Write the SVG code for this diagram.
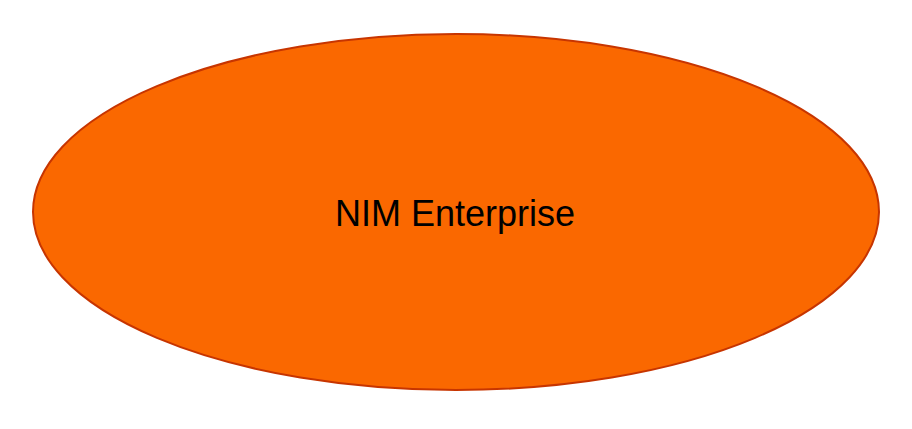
<svg xmlns="http://www.w3.org/2000/svg" width="912" height="429" viewBox="0 0 912 429"><style>.n{fill:#fa6800;stroke:#c73500;stroke-width:2}.t{font-family:"Liberation Sans",Arial,sans-serif;font-size:36px;fill:#000}</style><rect width="912" height="429" fill="#fff"/><g id="node1"><ellipse class="n" cx="456" cy="212" rx="423" ry="178"/><text class="t" x="455" y="226" text-anchor="middle">NIM Enterprise</text></g><g id="connectors"/></svg>
